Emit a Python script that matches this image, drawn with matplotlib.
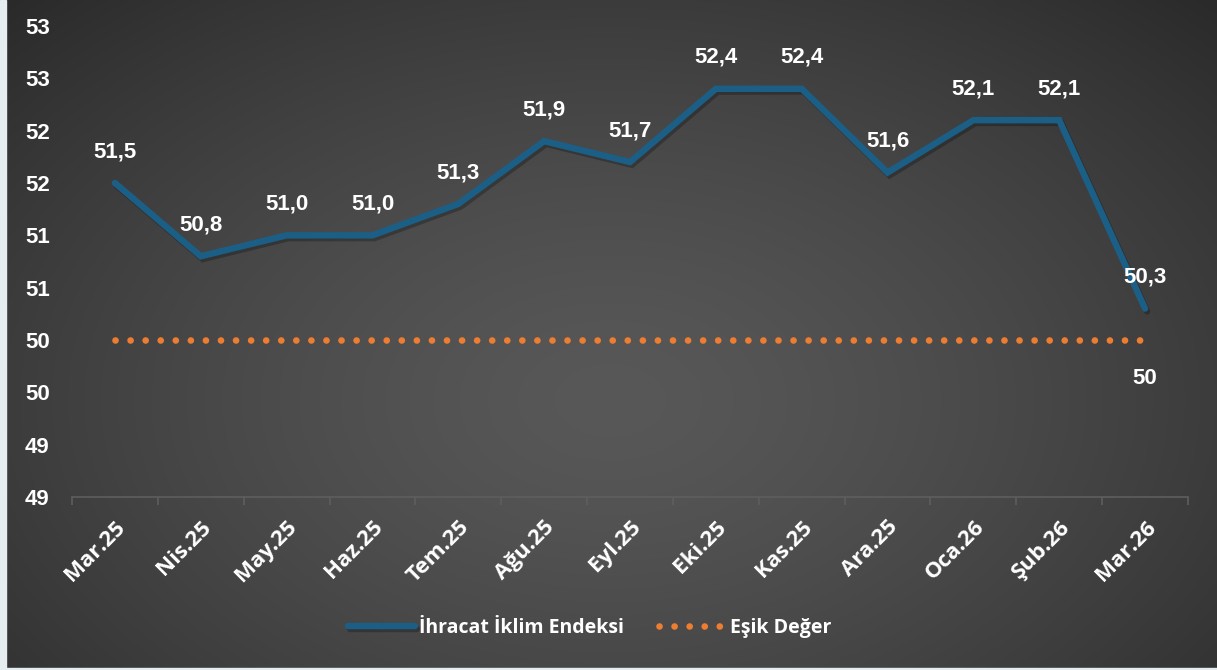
import numpy as np
import matplotlib.pyplot as plt
import matplotlib.patheffects as pe
from matplotlib.patches import Rectangle

months = ["Mar.25", "Nis.25", "May.25", "Haz.25", "Tem.25", "Ağu.25", "Eyl.25",
          "Eki.25", "Kas.25", "Ara.25", "Oca.26", "Şub.26", "Mar.26"]
index_vals = [51.5, 50.8, 51.0, 51.0, 51.3, 51.9, 51.7, 52.4, 52.4, 51.6, 52.1, 52.1, 50.3]
threshold = [50] * 13
yticks = [48.5, 49.0, 49.5, 50.0, 50.5, 51.0, 51.5, 52.0, 52.5, 53.0]
ylabels = ["49", "49", "50", "50", "51", "51", "52", "52", "53", "53"]

W, H = 1217, 670
fig = plt.figure(figsize=(W / 100, H / 100), dpi=100)

# radial dark background
bg = fig.add_axes([0, 0, 1, 1], zorder=-5)
yy, xx = np.mgrid[0:H, 0:W]
r = np.sqrt(((xx - 610) / 863.0) ** 2 + ((yy - 400) / 560.0) ** 2)
r = np.clip(r, 0, 1) ** 1.4
c = (88 - 46 * r) / 255.0
img = np.dstack([c, c, c])
bg.imshow(img, aspect='auto', extent=[0, 1, 0, 1])
bg.set_axis_off()
fig.patches.append(Rectangle((0, 0), 6 / W, 1, transform=fig.transFigure,
                             color='#e6edf0', zorder=10))
fig.patches.append(Rectangle((0, 0), 1, 2 / H, transform=fig.transFigure,
                             color='#e6edf0', zorder=10))

ax = fig.add_axes([72 / W, 1 - 497 / H, (1188 - 72) / W, (497 - 26) / H])
ax.set_facecolor('none')
x = np.arange(len(months))

shadow = [pe.SimpleLineShadow(offset=(1.5, -2), shadow_color='black', alpha=0.25), pe.Normal()]

ax.plot(x, index_vals, color='#1b5f86', lw=4.6, solid_capstyle='round',
        solid_joinstyle='miter', label='İhracat İklim Endeksi', path_effects=shadow, zorder=3)
ax.plot(x, threshold, color='#ed7d31', lw=4.8, linestyle=(0, (0.01, 2.25)),
        dash_capstyle='round', label='Eşik Değer', zorder=2)

lab_font = dict(color='white', fontsize=16, fontweight='bold', family='Liberation Sans')
for xi, v in zip(x, index_vals):
    ax.annotate(f"{v:.1f}".replace('.', ','), (xi, v), xytext=(0, 15),
                textcoords='offset points', ha='center', va='bottom', **lab_font)
ax.annotate(f"{threshold[-1]}", (x[-1], threshold[-1]), xytext=(0, -20),
            textcoords='offset points', ha='center', va='top', **lab_font)

ax.set_xlim(-0.5, len(months) - 0.5)
ax.set_ylim(48.5, 53)
ax.set_yticks(yticks)
ax.set_yticklabels(ylabels, fontsize=16, fontweight='bold', color='white',
                   family='Liberation Sans')
ax.tick_params(axis='y', length=0, pad=16)

ax.set_xticks(x)
ax.set_xticklabels(months, rotation=45, ha='right', rotation_mode='anchor',
                   fontsize=16, fontweight='bold', color='white', family='Open Sans')
ax.set_xticks(np.arange(-0.5, len(months)), minor=True)
ax.tick_params(axis='x', which='major', length=0, pad=14)
ax.tick_params(axis='x', which='minor', length=6, color='#5e5e5e', width=1.2)

for s in ['top', 'right', 'left']:
    ax.spines[s].set_visible(False)
ax.spines['bottom'].set_color('#5e5e5e')
ax.spines['bottom'].set_linewidth(1.2)

leg = fig.legend(loc='center', bbox_to_anchor=(590 / W, 1 - 628 / H), ncol=2,
                 frameon=False, handlelength=3.4, columnspacing=1.8, handletextpad=0.25,
                 prop={'family': 'Open Sans', 'weight': 'bold', 'size': 14})
for t in leg.get_texts():
    t.set_color('white')

fig.savefig('out.png', dpi=100)
